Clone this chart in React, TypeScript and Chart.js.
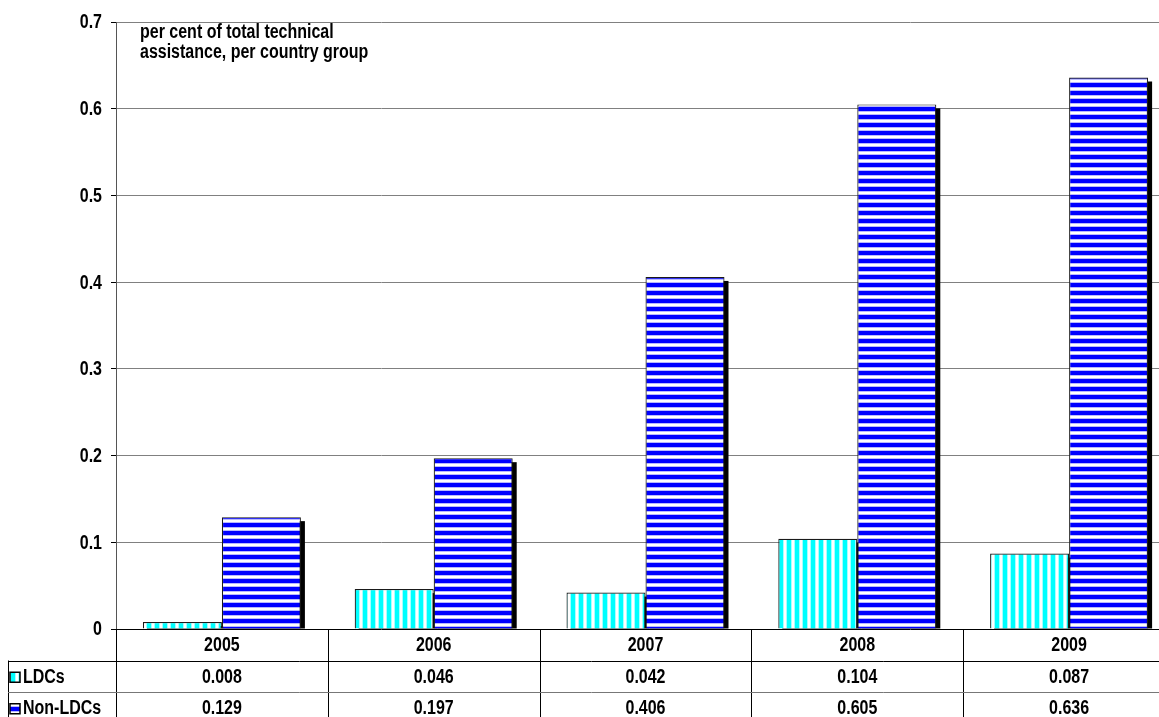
import React, { useEffect, useRef } from 'react'
import { Chart, registerables } from 'chart.js'

Chart.register(...registerables)

const years = ['2005', '2006', '2007', '2008', '2009']
const ldcValues = [0.008, 0.046, 0.042, 0.104, 0.087]
const nonLdcValues = [0.129, 0.197, 0.406, 0.605, 0.636]
const seriesNames = ['LDCs', 'Non-LDCs']
const noteLines = ['per cent of total technical', 'assistance, per country group']

// no Arial Narrow here, so squeeze Liberation Sans sideways
const FONT = "bold 19.5px 'Liberation Sans', Arial, sans-serif"
const SQUEEZE = 0.82

function narrowText(c: CanvasRenderingContext2D, t: string, x: number, y: number, align: CanvasTextAlign) {
  c.save()
  c.font = FONT
  c.fillStyle = '#000'
  c.textBaseline = 'middle'
  c.textAlign = align
  c.translate(x, y)
  c.scale(SQUEEZE, 1)
  c.fillText(t, 0, 0)
  c.restore()
}

// striped fills like the old Excel patterns
function makeStripes(vertical: boolean) {
  const c = document.createElement('canvas')
  c.width = 8
  c.height = 8
  const g = c.getContext('2d')!
  const cols = vertical
    ? ['#ffffff', '#ffffff', '#a8ffff', '#00ffff', '#00ffff', '#00ffff', '#00ffff', '#a8ffff']
    : ['#ffffff', '#ffffff', '#b8b8ff', '#0000ff', '#0000ff', '#0000ff', '#0000ff', '#b8b8ff']
  cols.forEach((col, i) => {
    g.fillStyle = col
    if (vertical) g.fillRect(i, 0, 1, 8)
    else g.fillRect(0, i, 8, 1)
  })
  return g.createPattern(c, 'repeat')!
}

const App: React.FC = () => {
  const chartRef = useRef<HTMLCanvasElement | null>(null)

  useEffect(() => {
    if (!chartRef.current) return
    const ctx = chartRef.current.getContext('2d')
    if (!ctx) return

    const ldcFill = makeStripes(true)
    const nonLdcFill = makeStripes(false)

    const shadowPlugin = {
      id: 'barShadow',
      beforeDatasetsDraw(chart: any) {
        const c = chart.ctx
        c.save()
        c.fillStyle = '#000'
        chart.data.datasets.forEach((_: any, di: number) => {
          chart.getDatasetMeta(di).data.forEach((bar: any) => {
            const w = bar.width
            c.fillRect(bar.x - w / 2 + 4, bar.y + 4, w, bar.base - bar.y - 4)
          })
        })
        c.restore()
      },
    }

    const textPlugin = {
      id: 'labels',
      afterDraw(chart: any) {
        const c = chart.ctx
        const a = chart.chartArea
        const y = chart.scales.y
        y.ticks.forEach((t: any) => {
          const lbl = t.value === 0 ? '0' : Number(t.value).toFixed(1)
          narrowText(c, lbl, a.left - 14, y.getPixelForValue(t.value) + 1, 'right')
        })
        noteLines.forEach((t, i) => narrowText(c, t, a.left + 24, a.top + 11 + i * 20, 'left'))
      },
    }

    const tablePlugin = {
      id: 'dataTable',
      afterDraw(chart: any) {
        const c = chart.ctx
        const a = chart.chartArea
        const x = chart.scales.x
        const step = (a.right - a.left) / years.length
        const rowH = 31.5
        const r0 = a.bottom
        const r1 = r0 + rowH
        const r2 = r1 + rowH
        const r3 = r2 + rowH
        const legLeft = 8
        c.save()
        c.strokeStyle = '#000'
        c.lineWidth = 1
        c.beginPath()
        for (let i = 0; i <= years.length; i++) {
          const px = Math.round(a.left + i * step) + 0.5
          c.moveTo(px, r0)
          c.lineTo(px, r3)
        }
        c.moveTo(legLeft + 0.5, r1)
        c.lineTo(legLeft + 0.5, r3)
        c.moveTo(legLeft, Math.round(r1) + 0.5)
        c.lineTo(a.right, Math.round(r1) + 0.5)
        c.stroke()
        c.strokeStyle = '#777'
        c.beginPath()
        c.moveTo(legLeft, Math.round(r2) + 0.5)
        c.lineTo(a.right, Math.round(r2) + 0.5)
        c.stroke()
        c.restore()

        years.forEach((yr, i) => {
          const cx = x.getPixelForValue(i)
          narrowText(c, yr, cx, (r0 + r1) / 2 + 1, 'center')
          narrowText(c, ldcValues[i].toFixed(3), cx, (r1 + r2) / 2 + 1, 'center')
          narrowText(c, nonLdcValues[i].toFixed(3), cx, (r2 + r3) / 2 + 1, 'center')
        })

        // legend keys in the first column
        const fills = [ldcFill, nonLdcFill]
        seriesNames.forEach((name, i) => {
          const cy = (i === 0 ? (r1 + r2) / 2 : (r2 + r3) / 2) + 1
          c.save()
          c.fillStyle = fills[i]
          c.fillRect(10, cy - 5, 10, 10)
          c.strokeStyle = '#000'
          c.lineWidth = 1.5
          c.strokeRect(10, cy - 5, 10, 10)
          c.restore()
          narrowText(c, name, 23, cy, 'left')
        })
      },
    }

    const myChart = new Chart(ctx, {
      type: 'bar',
      data: {
        labels: years,
        datasets: [
          {
            label: seriesNames[0],
            data: ldcValues,
            backgroundColor: ldcFill,
            borderColor: '#1a1a1a',
            borderWidth: 1.2,
          },
          {
            label: seriesNames[1],
            data: nonLdcValues,
            backgroundColor: nonLdcFill,
            borderColor: '#1a1a1a',
            borderWidth: 1.2,
          },
        ],
      },
      options: {
        animation: false,
        responsive: false,
        devicePixelRatio: 1,
        layout: { padding: { top: 22, right: 25, bottom: 111, left: 0 } },
        datasets: { bar: { categoryPercentage: 0.746, barPercentage: 1 } },
        plugins: {
          legend: { display: false },
          tooltip: { enabled: false },
        },
        scales: {
          x: { display: false },
          y: {
            min: 0,
            max: 0.7,
            ticks: { stepSize: 0.1, display: false },
            grid: {
              color: (c: any) => (c.tick && c.tick.value === 0 ? '#000' : '#808080'),
              tickLength: 5,
              tickColor: '#000',
            },
            border: { color: '#555' },
            afterFit: (s: any) => {
              s.width = 116
            },
          },
        },
      },
      plugins: [shadowPlugin, textPlugin, tablePlugin],
    })

    return () => {
      myChart.destroy()
    }
  }, [])

  return (
    <div style={{ position: 'fixed', left: 0, top: 0, width: 1159, height: 717, overflow: 'hidden', background: '#fff' }}>
      <canvas ref={chartRef} width={1200} height={740} style={{ display: 'block' }} />
    </div>
  )
}

export default App
